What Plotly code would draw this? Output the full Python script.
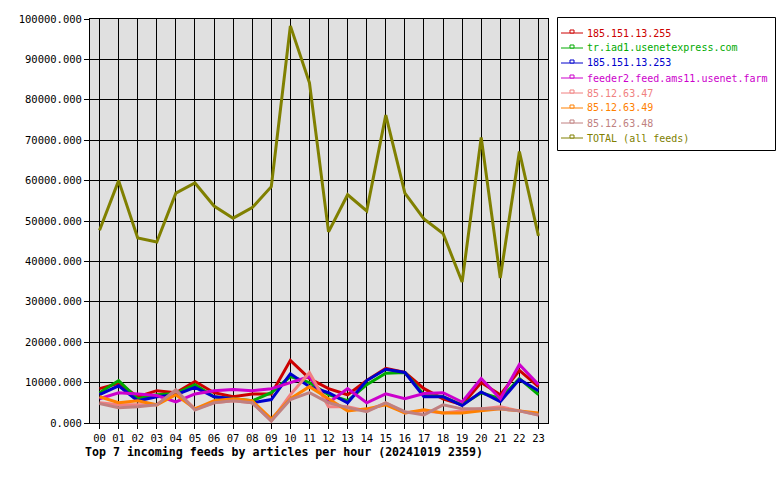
import plotly.graph_objects as go

hours = [f"{h:02d}" for h in range(24)]

names = ["185.151.13.255", "tr.iad1.usenetexpress.com", "185.151.13.253",
         "feeder2.feed.ams11.usenet.farm", "85.12.63.47", "85.12.63.49",
         "85.12.63.48", "TOTAL (all feeds)"]
colors = ["#cc0000", "#00aa00", "#0000cc", "#cc00cc", "#f08080", "#ff8000",
          "#c08080", "#808000"]

red = [8500, 9800, 6500, 8000, 7500, 10300, 7500, 6500, 7200, 7200, 15500, 11000,
       8500, 7000, 10500, 13500, 12500, 8500, 6000, 4500, 10000, 7000, 13000, 9000]
green = [7500, 10500, 6000, 7000, 7300, 9500, 6500, 6000, 5500, 7500, 11500, 10000,
         7000, 5500, 9500, 12300, 12500, 7000, 6500, 4500, 7500, 6000, 11000, 7000]
blue = [7000, 9200, 5500, 6500, 7000, 8800, 6500, 6000, 5000, 5800, 12200, 9000,
        7500, 5000, 10500, 13300, 12500, 6500, 6500, 4300, 7700, 5300, 10800, 8000]
magenta = [6000, 7500, 7200, 6800, 5200, 7200, 8000, 8300, 8000, 8500, 10000, 11500,
           5000, 8500, 5000, 7200, 6000, 7300, 7500, 5200, 11000, 6000, 14500, 9500]
salmon = [5000, 4500, 4500, 4500, 8000, 3500, 5000, 5500, 5000, 500, 7000, 12500,
          4000, 4000, 3000, 5000, 2500, 3000, 2500, 3000, 3500, 4000, 3000, 2000]
orange = [6500, 5000, 5500, 4500, 7000, 3500, 5500, 6000, 5500, 1000, 6000, 9000,
          6000, 3000, 3500, 4500, 2500, 3300, 2500, 2500, 3000, 3500, 3000, 2500]
rosy = [4800, 3800, 4000, 4500, 8200, 3200, 5000, 5500, 5000, 500, 5800, 7500,
        5000, 3800, 2800, 5000, 2800, 2000, 4500, 3500, 3500, 3500, 3000, 2000]
total = [47700, 60000, 45800, 44800, 56900, 59400, 53700, 50700, 53300, 58500, 98300, 84200,
         47300, 56500, 52500, 76200, 56900, 50500, 46900, 34900, 70700, 35900, 67200, 46300]

series = [red, green, blue, magenta, salmon, orange, rosy, total]
ytick_vals = list(range(0, 100001, 10000))

# layout geometry (pixels)
W, H = 780, 480
PL, PR, PT, PB = 90, 548, 19, 423


def px(x):
    return (x - PL) / (PR - PL)


def py(y):
    return (PB - y) / (PB - PT)


fig = go.Figure()
for nm, col, vals in zip(names, colors, series):
    fig.add_trace(go.Scatter(
        x=hours, y=vals, mode="lines", name=nm,
        line=dict(color=col, width=3), showlegend=False,
    ))

font_family = "DejaVu Sans Mono"

shapes = [dict(type="rect", xref="paper", yref="paper",
               x0=px(557.5), x1=px(775.5), y0=py(150.5), y1=py(17.5),
               line=dict(color="black", width=1), fillcolor="white", layer="above")]
annotations = []
for i, (nm, col) in enumerate(zip(names, colors)):
    yc = 33 + 15 * i
    shapes.append(dict(type="line", xref="paper", yref="paper",
                       x0=px(561), x1=px(583), y0=py(yc), y1=py(yc),
                       line=dict(color=col, width=1), layer="above"))
    shapes.append(dict(type="rect", xref="paper", yref="paper",
                       x0=px(570), x1=px(574), y0=py(yc), y1=py(yc - 3),
                       line=dict(color=col, width=1), fillcolor="white", layer="above"))
    annotations.append(dict(
        text=nm, xref="paper", yref="paper", x=px(585), y=py(yc),
        xanchor="left", yanchor="middle", showarrow=False,
        font=dict(family=font_family, size=10, color=col)))

annotations.append(dict(
    text="<b>Top 7 incoming feeds by articles per hour (20241019 2359)</b>",
    xref="paper", yref="paper", x=px(83), y=py(452),
    xanchor="left", yanchor="middle", showarrow=False,
    font=dict(family=font_family, size=11.6, color="black"),
))

fig.update_layout(
    width=W, height=H,
    margin=dict(l=PL, r=W - PR, t=PT, b=H - PB, autoexpand=False),
    paper_bgcolor="white",
    plot_bgcolor="#e0e0e0",
    font=dict(family=font_family, size=10, color="black"),
    showlegend=False,
    shapes=shapes,
    annotations=annotations,
)
fig.update_xaxes(
    type="category", range=[-0.5, 23.5],
    showgrid=True, gridcolor="black", gridwidth=1,
    showline=True, linecolor="black", linewidth=1, mirror=True,
    ticks="outside", ticklen=5, tickcolor="black",
    tickfont=dict(family=font_family, size=10.5),
)
fig.update_yaxes(
    range=[0, 100000], tickvals=ytick_vals, tickformat=".3f",
    showgrid=True, gridcolor="black", gridwidth=1,
    showline=True, linecolor="black", linewidth=1, mirror=True,
    ticks="outside", ticklen=5, tickcolor="black", zeroline=False,
    tickfont=dict(family=font_family, size=10.5),
)

fig.write_html("out.html")
